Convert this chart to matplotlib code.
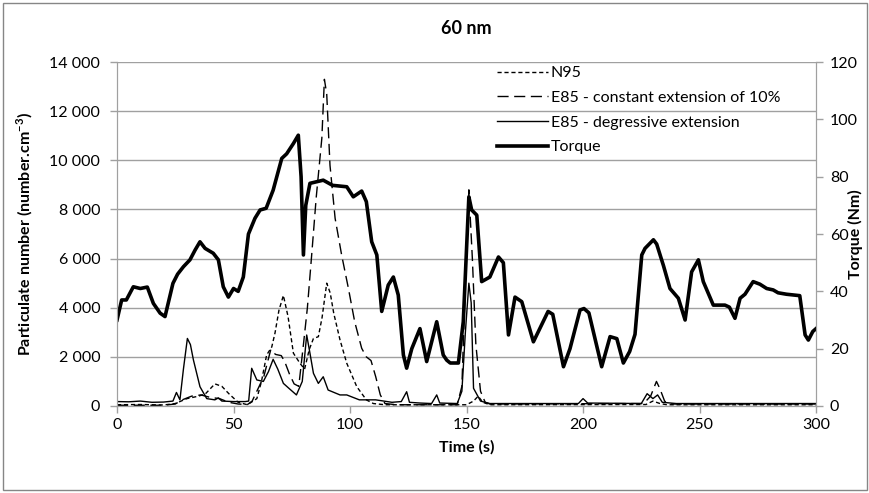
import matplotlib
matplotlib.use("Agg")
from matplotlib import pyplot as plt
from matplotlib.patches import Rectangle

plt.rcParams['font.family'] = ['Lato', 'DejaVu Sans']
plt.rcParams['mathtext.fontset'] = 'custom'
plt.rcParams['mathtext.rm'] = 'Lato'
plt.rcParams['mathtext.bf'] = 'Lato:bold'

# values
torque_t = [0, 2, 4, 7, 10, 13, 15.6, 18.5, 20.6, 24, 26, 28.5, 31.3, 33.5, 35.6, 37.8,
            41.3, 43.5, 45.6, 47.8, 50, 52, 54.2, 56.4, 59.2, 61.4, 64, 67, 70.7, 72.8,
            75.7, 77.8, 79, 80, 81, 82.8, 88.5, 92.5, 98.6, 101.4, 105, 107, 109.3, 111.5,
            113.6, 116.4, 118.6, 120.7, 122.9, 124.3, 126.5, 130, 132.9, 137.2, 140, 141.5,
            143, 146.5, 148.6, 151, 152.2, 154.4, 156.5, 160, 163.7, 165.8, 168, 170.8,
            173.7, 178.7, 185, 187, 191.6, 194.4, 198.7, 200.4, 202.5, 208, 211.6, 214.5,
            217.3, 220, 222.3, 225.2, 226.6, 230.2, 231.6, 234.5, 237.3, 240.9, 243.8,
            246.6, 249.5, 251.6, 255.9, 260.9, 262.8, 265.2, 267.4, 269.5, 273, 275.9,
            278.8, 281.6, 283.7, 287.3, 293, 295.3, 296.7, 298.6, 300]
torque_nm = [30, 37, 37, 41.6, 41, 41.5, 35.8, 32.4, 31.2, 42.8, 46, 48.6, 51, 54.4, 57.3, 55,
             53.3, 51, 41.6, 38, 41, 40, 45, 60, 65.5, 68.4, 69, 75.3, 86.4, 88,
             91.6, 94.5, 80, 52.7, 70, 77.7, 78.8, 77, 76.5, 73, 75, 71.3, 57.3, 52.7,
             33, 42.2, 45, 38.7, 17.8, 13.2, 20, 27, 15.5, 29.4, 17.8, 16,
             15, 15, 29.4, 73, 68.4, 66.6, 43.4, 45, 52, 50, 24.8, 38,
             36.4, 22.4, 33, 32, 13.7, 20, 33.5, 34, 32.5, 13.7, 24.2, 23.5,
             15, 19, 25, 52.7, 55, 58, 56.5, 49, 41, 37.6, 30,
             46.8, 51, 43.4, 35.2, 35.2, 34.5, 30.6, 37.6, 39, 43.4, 42.5,
             41, 40.5, 39.5, 39, 38.5, 24.8, 23, 26, 27]

n95_t = [0, 10, 20, 25, 30, 35, 38, 42, 45, 48, 52, 56, 60, 62, 64.2, 66.4, 67.8, 69.5,
         71.4, 73.4, 75.7, 78.5, 80.5, 82.5, 84.3, 86.4, 88, 90, 91.5, 93, 95.7, 98.6,
         102.9, 107, 110, 115, 150, 153, 155, 157, 160, 227, 230, 233, 236, 300]
n95_v = [50, 60, 40, 100, 300, 400, 500, 900, 800, 500, 150, 50, 300, 1000, 2075, 2400, 2970, 3900,
         4500, 3640, 2150, 1740, 1500, 2300, 2750, 2820, 3600, 5000, 4600, 3780, 2690, 1740,
         785, 250, 100, 50, 50, 200, 400, 150, 50, 60, 200, 100, 50, 50]

e85c_t = [0, 20, 25, 28, 32, 36, 40, 44, 48, 52, 56, 58, 60, 63, 66, 68, 70.5, 72, 74, 76,
          78, 80, 81.7, 83.5, 85.5, 87.9, 89, 90, 91.4, 93.6, 96.4, 99.3, 102, 105, 107,
          109, 111, 113, 115, 120, 146, 148, 149.5, 151, 152.5, 154, 156, 158, 160,
          226, 229, 231.5, 233, 235, 237, 300]
e85c_v = [30, 30, 80, 250, 400, 450, 350, 300, 150, 80, 60, 200, 600, 1200, 2300, 2100, 2050, 1800, 1300, 900,
          800, 2500, 4000, 6100, 8500, 10900, 13300, 12700, 9800, 7640, 6145, 4790, 3430, 2350, 2000,
          1850, 1200, 450, 100, 50, 50, 800, 5000, 8800, 6000, 2500, 600, 150, 80,
          100, 400, 1000, 700, 200, 80, 80]

e85d_t = [0, 5, 10, 15, 20, 24, 25.5, 27, 28.5, 30.2, 31.5, 32.8, 35.6, 38.5, 42, 43.5, 45,
          50, 55, 56.5, 57.8, 60, 62.8, 65, 67, 69, 71.4, 74, 77, 79.5, 81.4, 82.8, 84.3,
          86.4, 88.5, 90.6, 95.7, 98.6, 104, 111, 118, 122, 124.3, 125.5, 130, 135, 137.2,
          138.5, 146, 148, 149.5, 151, 152, 153, 156, 160, 198, 200, 202, 225, 227.5, 230,
          232, 234, 240, 300]
e85d_v = [180, 170, 200, 150, 160, 200, 550, 250, 1500, 2750, 2500, 1870, 785, 300, 250, 330, 200,
          180, 180, 200, 1535, 1060, 1000, 1400, 1900, 1500, 920, 700, 450, 1000, 2890, 2150, 1330,
          920, 1190, 650, 450, 450, 250, 250, 150, 180, 580, 150, 120, 100, 450,
          120, 100, 600, 3000, 5000, 4200, 720, 200, 100, 100, 300, 120, 100, 500, 300,
          450, 150, 100, 100]

y_ticks = [0, 2000, 4000, 6000, 8000, 10000, 12000, 14000]
y_labels = ['0', '2 000', '4 000', '6 000', '8 000', '10 000', '12 000', '14 000']
torque_ticks = [0, 20, 40, 60, 80, 100, 120]
x_ticks = [0, 50, 100, 150, 200, 250, 300]

fig = plt.figure(figsize=(8.7, 4.93), dpi=100)
ax = fig.add_axes([0.1345, 0.1765, 0.8035, 0.6975])
ax2 = ax.twinx()

grey = '#a0a0a0'
fs = 11.5

l1, = ax.plot(n95_t, n95_v, color='black', lw=1.0, linestyle=(0, (3, 2)), label='N95')
l2, = ax.plot(e85c_t, e85c_v, color='black', lw=1.0, linestyle=(0, (8, 4)),
              label='E85 - constant extension of 10%')
l3, = ax.plot(e85d_t, e85d_v, color='black', lw=1.0, label='E85 - degressive extension')
l4, = ax2.plot(torque_t, torque_nm, color='black', lw=2.6, solid_joinstyle='round',
               label='Torque')

ax.set_xlim(0, 300)
ax.set_ylim(0, 14000)
ax2.set_ylim(0, 120)
ax.set_xticks(x_ticks)
ax.set_yticks(y_ticks)
ax.set_yticklabels(y_labels)
ax2.set_yticks(torque_ticks)

ax.grid(axis='y', color=grey, lw=1)
ax.set_axisbelow(True)
for a in (ax, ax2):
    for s in a.spines.values():
        s.set_color(grey)
    a.spines['top'].set_visible(False)
    a.tick_params(colors=grey, labelcolor='black', labelsize=fs, length=5, width=1)
ax.tick_params(axis='y', pad=7)
ax2.tick_params(axis='y', pad=5)

ax.set_title('60 nm', fontsize=13, fontweight='bold', pad=20)
ax.set_xlabel('Time (s)', fontsize=fs, fontweight='bold', labelpad=6)
ax.set_ylabel(r'Particulate number (number.cm$^{\mathregular{-3}}$)', fontsize=fs,
              fontweight='bold')
ax.yaxis.set_label_coords(-0.117, 0.5)
ax2.set_ylabel('Torque (Nm)', fontsize=fs, fontweight='bold')
ax2.yaxis.set_label_coords(1.045, 0.5)

leg = ax.legend(handles=[l1, l2, l3, l4], loc='upper left', bbox_to_anchor=(0.544, 0.988),
                frameon=False, fontsize=fs, borderpad=0, borderaxespad=0,
                handlelength=3.2, handletextpad=0.15, labelspacing=0.65)
leg.set_zorder(5)

fig.add_artist(Rectangle((0.004, 0.006), 0.992, 0.988, transform=fig.transFigure,
                         fill=False, ec='#868686', lw=1))

fig.savefig('out.png', dpi=100)
